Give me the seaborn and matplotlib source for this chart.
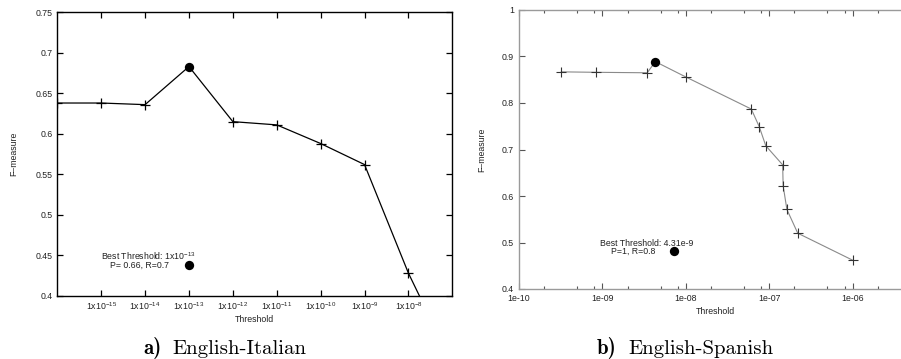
import numpy as np
import matplotlib
matplotlib.use("Agg")
import matplotlib.pyplot as plt
import matplotlib.ticker as mticker
import seaborn as sns

# English-Italian
it_thresh = [1e-16, 1e-15, 1e-14, 1e-13, 1e-12, 1e-11, 1e-10, 1e-9, 1e-8, 1e-7]
it_fmeasure = [0.638, 0.638, 0.636, 0.683, 0.615, 0.611, 0.588, 0.562, 0.428, 0.316]
it_best = (1e-13, 0.683)
it_key_point = (1e-13, 0.438)
it_key_lines = ["Best Threshold: 1x10$^{-13}$", "P= 0.66, R=0.7"]
it_xticks = [1e-15, 1e-14, 1e-13, 1e-12, 1e-11, 1e-10, 1e-9, 1e-8]
it_xticklabels = ["1x10$^{-%d}$" % e for e in range(15, 7, -1)]
it_yticks = [0.4, 0.45, 0.5, 0.55, 0.6, 0.65, 0.7, 0.75]
it_yticklabels = ["0.4", "0.45", "0.5", "0.55", "0.6", "0.65", "0.7", "0.75"]

# English-Spanish
es_thresh = [3.2e-10, 8.4e-10, 3.45e-9, 4.31e-9, 1e-8, 6.1e-8, 7.6e-8, 9.1e-8,
             1.45e-7, 1.47e-7, 1.63e-7, 2.2e-7, 1e-6]
es_fmeasure = [0.867, 0.866, 0.865, 0.889, 0.856, 0.787, 0.749, 0.708,
               0.667, 0.622, 0.571, 0.52, 0.462]
es_best = (4.31e-9, 0.889)
es_key_point = (7.2e-9, 0.481)
es_key_lines = ["Best Threshold: 4.31e-9", "P=1, R=0.8"]
es_xticks = [1e-10, 1e-9, 1e-8, 1e-7, 1e-6]
es_xticklabels = ["1e-10", "1e-09", "1e-08", "1e-07", "1e-06"]
es_yticks = [0.4, 0.5, 0.6, 0.7, 0.8, 0.9, 1.0]
es_yticklabels = ["0.4", "0.5", "0.6", "0.7", "0.8", "0.9", "1"]

captions = [("a)", "English-Italian"), ("b)", "English-Spanish")]

sns.set_theme(style="ticks")
plt.rcParams["font.family"] = ["Liberation Sans", "DejaVu Sans"]
plt.rcParams["mathtext.fontset"] = "custom"
plt.rcParams["mathtext.rm"] = "Liberation Sans"
plt.rcParams["mathtext.it"] = "Liberation Sans:italic"
plt.rcParams["mathtext.bf"] = "Liberation Sans:bold"

W, H = 901, 359
fig = plt.figure(figsize=(W / 100, H / 100), dpi=100)
fs = 6.3
txt = "#222222"

# ---- left panel ----
ax1 = fig.add_axes([57.3 / W, 1 - 295.8 / H, 395 / W, 283.5 / H])
ax1.set_xscale("log")
best_i = it_thresh.index(it_best[0])
sns.lineplot(x=it_thresh, y=it_fmeasure, ax=ax1, color="black", lw=0.9,
             marker="+", markersize=7, markeredgewidth=0.9, markeredgecolor="black",
             sort=False, estimator=None,
             markevery=[i for i in range(len(it_thresh)) if i != best_i])
sns.scatterplot(x=[it_best[0], it_key_point[0]], y=[it_best[1], it_key_point[1]],
                ax=ax1, color="black", s=45, edgecolor="black", linewidth=0, zorder=5)
ax1.set_xlim(1e-16, 1e-7)
ax1.set_ylim(0.4, 0.75)
ax1.set_xticks(it_xticks, it_xticklabels)
ax1.set_yticks(it_yticks, it_yticklabels)
ax1.xaxis.set_minor_locator(mticker.NullLocator())
ax1.tick_params(which="major", direction="in", length=4, width=0.9, color="black",
                top=True, right=True, labelsize=fs, pad=3.5, labelcolor=txt)
for sp in ax1.spines.values():
    sp.set_visible(True)
    sp.set_color("black")
    sp.set_linewidth(1.0)
ax1.set_xlabel("Threshold", fontsize=fs, color=txt)
ax1.set_ylabel("F\u2013measure", fontsize=fs, color=txt)
ax1.xaxis.set_label_coords(0.5, -0.066)
ax1.yaxis.set_label_coords(-0.098, 0.5)
ax1.text(0.232, 0.126, it_key_lines[0], transform=ax1.transAxes, ha="center",
         va="baseline", fontsize=fs, color=txt)
ax1.text(0.209, 0.100, it_key_lines[1], transform=ax1.transAxes, ha="center",
         va="baseline", fontsize=fs, color=txt)

# ---- right panel ----
ax2_right_dec = -10 + (901 - 519) / 83.4
ax2 = fig.add_axes([519 / W, 1 - 289 / H, 382 / W, 279 / H])
ax2.set_xscale("log")
best_j = es_thresh.index(es_best[0])
sns.lineplot(x=es_thresh, y=es_fmeasure, ax=ax2, color="#8a8a8a", lw=0.8,
             marker="+", markersize=7, markeredgewidth=0.8, markeredgecolor="#333333",
             sort=False, estimator=None,
             markevery=[i for i in range(len(es_thresh)) if i != best_j])
sns.scatterplot(x=[es_best[0], es_key_point[0]], y=[es_best[1], es_key_point[1]],
                ax=ax2, color="black", s=45, edgecolor="black", linewidth=0, zorder=5)
ax2.set_xlim(1e-10, 10 ** ax2_right_dec)
ax2.set_ylim(0.4, 1.0)
ax2.set_xticks(es_xticks, es_xticklabels)
ax2.set_yticks(es_yticks, es_yticklabels)
ax2.xaxis.set_minor_locator(mticker.LogLocator(base=10, subs=[2, 5, 8]))
ax2.xaxis.set_minor_formatter(mticker.NullFormatter())
ax2.tick_params(which="major", direction="in", length=4, width=0.8, color="#555555",
                top=True, right=False, labelsize=fs, pad=3.5, labelcolor=txt)
ax2.tick_params(which="minor", direction="in", length=2.5, width=0.8, color="#555555",
                top=True, right=False)
for name, sp in ax2.spines.items():
    sp.set_visible(name != "right")
    sp.set_color("#9a9a9a")
    sp.set_linewidth(1.0)
ax2.set_xlabel("Threshold", fontsize=fs, color=txt)
ax2.set_ylabel("F\u2013measure", fontsize=fs, color=txt)
ax2.xaxis.set_label_coords(0.513, -0.065)
ax2.yaxis.set_label_coords(-0.085, 0.5)
ax2.text(0.335, 0.155, es_key_lines[0], transform=ax2.transAxes, ha="center",
         va="baseline", fontsize=fs, color=txt)
ax2.text(0.300, 0.125, es_key_lines[1], transform=ax2.transAxes, ha="center",
         va="baseline", fontsize=fs, color=txt)

# ---- captions ----
cap_pos = [(161.7, 172.5), (616.7, 628)]
for (tag, name), (xr, xl) in zip(captions, cap_pos):
    fig.text(xr / W, 5 / H, tag, family="cmb10", fontsize=15, ha="right",
             va="baseline", color="black")
    fig.text(xl / W, 5 / H, name, family="cmr10", fontsize=15, ha="left",
             va="baseline", color="black")

fig.savefig("out.png", dpi=100)
